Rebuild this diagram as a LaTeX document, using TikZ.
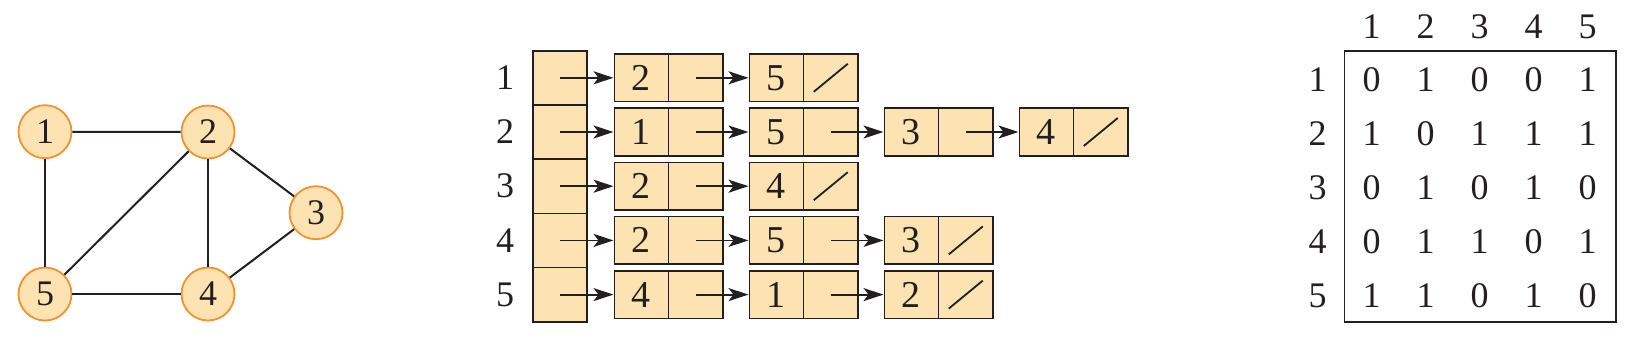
\documentclass[tikz,border=0pt]{standalone}
\usepackage{fontspec}
\setmainfont{Liberation Serif}
\usetikzlibrary{arrows.meta,calc}
\definecolor{fillc}{HTML}{FEE3B2}
\definecolor{ringc}{HTML}{F5922F}
\definecolor{ink}{HTML}{231F20}
\begin{document}
\begin{tikzpicture}[x=1pt,y=-1pt,
  vtx/.style={circle, draw=ringc, fill=fillc, line width=1.8pt, minimum size=53pt, inner sep=0pt, text=ink, font=\fontsize{36}{40}\selectfont},
  gedge/.style={draw=ink, line width=2pt},
  arraycell/.style={rectangle, draw=ink, fill=fillc, line width=1.6pt, minimum width=54pt, minimum height=54.2pt, inner sep=0pt},
  half/.style={rectangle, draw=ink, fill=fillc, line width=1.6pt, minimum width=54.3pt, minimum height=47.7pt, inner sep=0pt, text=ink, font=\fontsize{38}{42}\selectfont},
  ptr/.style={-{Stealth[length=20pt,width=13pt,inset=5pt]}, draw=ink, line width=1.8pt},
  slash/.style={draw=ink, line width=1.8pt},
  lbl/.style={inner sep=0pt, text=ink, font=\fontsize{36}{40}\selectfont},
  mtx/.style={inner sep=0pt, text=ink, font=\fontsize{36}{40}\selectfont}
]
\useasboundingbox (0,0) rectangle (1645,343);

% ---------- graph ----------
\node[vtx] (g1) at (45,131.7) {1};
\node[vtx] (g2) at (208,132) {2};
\node[vtx] (g3) at (316,212.7) {3};
\node[vtx] (g4) at (208,294) {4};
\node[vtx] (g5) at (45,294) {5};
\draw[gedge] (g1) -- (g2);
\draw[gedge] (g1) -- (g5);
\draw[gedge] (g2) -- (g5);
\draw[gedge] (g2) -- (g4);
\draw[gedge] (g2) -- (g3);
\draw[gedge] (g3) -- (g4);
\draw[gedge] (g4) -- (g5);

% ---------- adjacency lists ----------
\foreach \r/\n/\lst in {1/2/{2,5},2/4/{1,5,3,4},3/2/{2,4},4/3/{2,5,3},5/3/{4,1,2}} {
  \pgfmathsetmacro\ry{77.8+54.2*(\r-1)}
  \node[lbl] (rl\r) at (505,\ry) {\r};
  \node[arraycell] (a\r) at (559.7,\ry) {};
  \foreach \v [count=\k] in \lst {
    \pgfmathsetmacro\lx{614.3+135*(\k-1)}
    \node[half] (L\r-\k-v) at (\lx+27.15,\ry) {\v};
    \node[half] (L\r-\k-p) at (\lx+81.45,\ry) {};
    \ifnum\k=1
      \draw[ptr] (a\r.center) -- (L\r-\k-v.west);
    \else
      \pgfmathtruncatemacro\pk{\k-1}
      \draw[ptr] (L\r-\pk-p.center) -- (L\r-\k-v.west);
    \fi
    \ifnum\k=\n
      \draw[slash] ($(L\r-\k-p.center)+(-17,14)$) -- ($(L\r-\k-p.center)+(17,-14)$);
    \fi
  }
}

% ---------- adjacency matrix ----------
\node[draw=ink, line width=1.6pt, minimum width=271.4pt, minimum height=271pt, inner sep=0pt] (mbox) at (1480,186.2) {};
\foreach \j in {1,...,5} {
  \node[mtx] (ch\j) at (1371.7+54*\j-54,26.7) {\j};
}
\foreach \i/\row in {1/{0,1,0,0,1},2/{1,0,1,1,1},3/{0,1,0,1,0},4/{0,1,1,0,1},5/{1,1,0,1,0}} {
  \pgfmathsetmacro\my{80+54*(\i-1)}
  \node[mtx] (rh\i) at (1317.7,\my) {\i};
  \foreach \e [count=\j] in \row {
    \node[mtx] (m-\i-\j) at (1371.7+54*\j-54,\my) {\e};
  }
}
\end{tikzpicture}
\end{document}
